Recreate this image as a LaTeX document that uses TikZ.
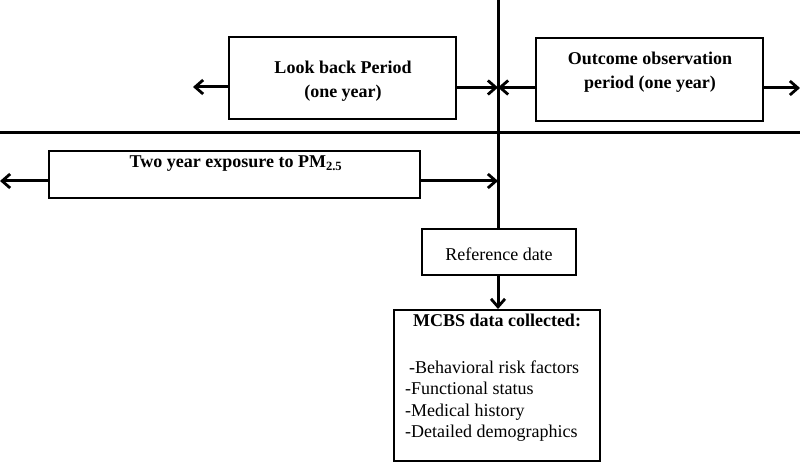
\documentclass[tikz,border=0pt]{standalone}
\usepackage{fontspec}
\setmainfont{Liberation Serif}
\usetikzlibrary{arrows.meta}
\begin{document}
\begin{tikzpicture}[x=1pt,y=-1pt,
  box/.style={draw, line width=2pt, rectangle, inner sep=0pt},
  bigline/.style={line width=3pt},
  arr/.style={line width=3pt, -{Straight Barb[length=8pt,width=14pt,line width=2.8pt]}},
  txt/.style={font=\fontsize{18}{23.5}\selectfont, align=center, inner sep=0pt},
  btxt/.style={txt, font=\fontsize{18}{23.5}\selectfont\bfseries}]
\useasboundingbox (0,0) rectangle (800,462);
% main axes
\coordinate (vtop) at (498,0);
\coordinate (hl) at (0,133);
\coordinate (hr) at (800,133);
\draw[bigline] (hl) -- (hr);
% boxes
\node[box, minimum width=227pt, minimum height=82pt] (look) at (342.5,78) {};
\node[btxt] (looktxt) at (343,81) {Look back Period\\(one year)};
\node[box, minimum width=227pt, minimum height=83pt] (out) at (649.5,79.5) {};
\node[btxt] (outtxt) at (650,72) {Outcome observation\\period (one year)};
\node[box, minimum width=371pt, minimum height=47pt] (two) at (234.5,174.5) {};
\node[btxt] (twotxt) at (236,164) {Two year exposure to PM\textsubscript{2.5}};
\node[box, minimum width=154pt, minimum height=46pt] (ref) at (499,252.5) {};
\node[txt] (reftxt) at (499,254) {Reference date};
\node[box, minimum width=206pt, minimum height=151pt] (mcbs) at (497,385.5) {};
\node[btxt, anchor=base] (mtitle) at (497,326) {MCBS data collected:};
\node[txt, anchor=base west, align=left] (m1) at (409,373) {-Behavioral risk factors};
\node[txt, anchor=base west, align=left] (m2) at (405,394.5) {-Functional status};
\node[txt, anchor=base west, align=left] (m3) at (405,416) {-Medical history};
\node[txt, anchor=base west, align=left] (m4) at (405,437.5) {-Detailed demographics};
% vertical line
\coordinate (vbot) at (498,229);
\draw[bigline] (vtop) -- (vbot);
% arrows
\coordinate (lookL) at (193,87);
\coordinate (lookR) at (498,87.5);
\coordinate (outL) at (498,87.5);
\coordinate (outR) at (800,88);
\coordinate (twoL) at (0,181);
\coordinate (twoR) at (498,181);
\draw[arr] (look.west |- lookL) -- (lookL);
\draw[arr] (look.east |- lookR) -- (lookR);
\draw[arr] (out.west |- outL) -- (outL);
\draw[arr] (out.east |- outR) -- (outR);
\draw[arr] (two.west |- twoL) -- (twoL);
\draw[arr] (two.east |- twoR) -- (twoR);
\draw[arr] (ref.south -| vbot) -- (mcbs.north -| vbot);
\end{tikzpicture}
\end{document}
